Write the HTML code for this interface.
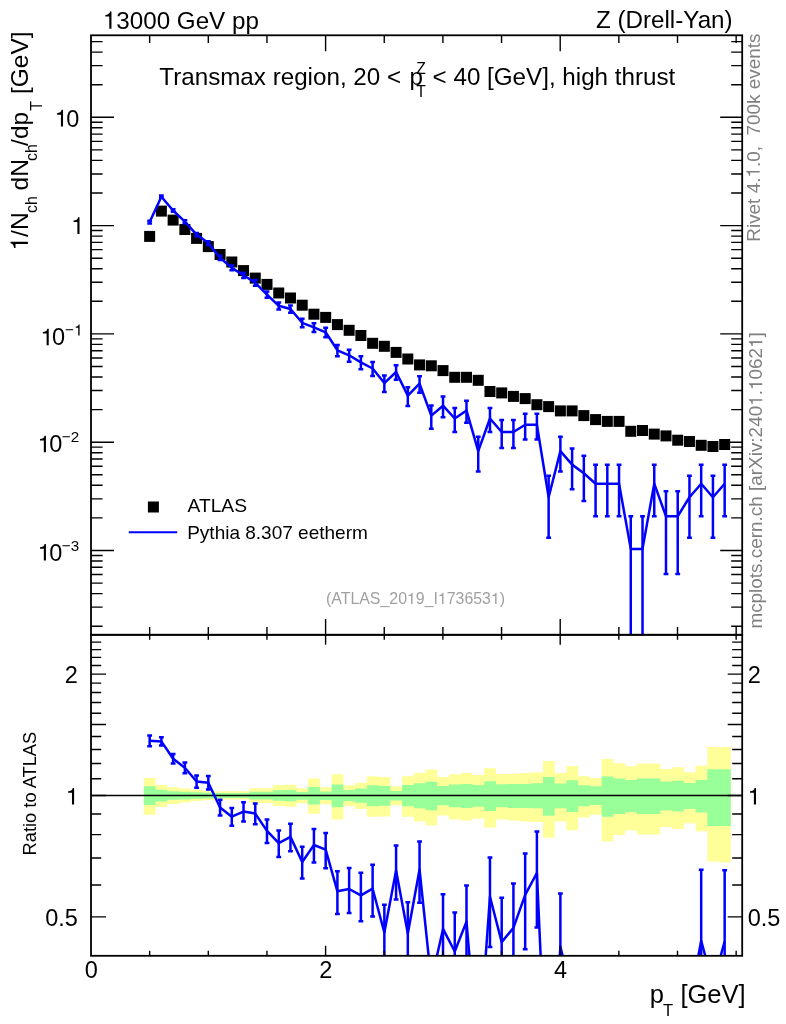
<!DOCTYPE html>
<html><head><meta charset="utf-8"><title>plot</title><style>html,body{margin:0;padding:0;background:#fff}body{width:786px;height:1024px;overflow:hidden}</style></head><body>
<svg width="786" height="1024" viewBox="0 0 786 1024" style="display:block;font-family:'Liberation Sans',sans-serif;will-change:transform">
<defs><clipPath id="cm"><rect x="91" y="35.3" width="651.2" height="599.5"/></clipPath><clipPath id="cr"><rect x="91" y="634.8" width="651.2" height="321"/></clipPath></defs>
<rect width="786" height="1024" fill="#fff"/>
<path d="M143.8 778V778H155.54V785.1H167.28V787.2H179.02V788.6H190.76V789.8H202.5V790.8H214.24V791.2H225.98V791.2H237.72V791.2H249.46V788.2H261.2V788.2H272.94V785.1H284.68V784.8H296.42V788.3H308.16V778.4H319.9V787.3H331.64V774.3H343.38V785.3H355.12V782.8H366.86V776.3H378.6V777.1H390.34V786.3H402.08V776.3H413.82V772.7H425.56V769.4H437.3V777.1H449.04V774.3H460.78V773.1H472.52V775.1H484.26V768.2H496V774.1H507.74V773.7H519.48V773.1H531.22V772.3H542.96V761.1H554.7V773.1H566.44V766.1H578.18V776.3H589.92V778H601.66V759.1H613.4V763.2H625.14V766.2H636.88V763.4H648.62V763.4H660.36V768.9H672.1V767.2H683.84V772.3H695.58V765.8H707.32V746.9H719.06V746.9H730.8V862.5H719.06V861.5H707.32V831.3H695.58V823.2H683.84V828.9H672.1V826.9H660.36V834.6H648.62V834.6H636.88V830.5H625.14V835H613.4V841.5H601.66V814.7H589.92V817.4H578.18V830.3H566.44V821.5H554.7V837.8H542.96V822.1H531.22V821.5H519.48V820.5H507.74V819.5H496V827.6H484.26V818.5H472.52V820.5H460.78V819.5H449.04V815.4H437.3V825.6H425.56V821.5H413.82V816.8H402.08V805.2H390.34V816.4H378.6V816.8H366.86V808.9H355.12V806.2H343.38V819.5H331.64V804.2H319.9V813.8H308.16V803.2H296.42V806.8H284.68V805.9H272.94V803H261.2V803H249.46V799.4H237.72V799.4H225.98V799.4H214.24V800H202.5V801H190.76V802.4H179.02V803.9H167.28V807.1H155.54V814.7H143.8Z" fill="#ffff99"/>
<path d="M143.8 786.2V786.2H155.54V789.8H167.28V791.2H179.02V791.7H190.76V792.3H202.5V792.7H214.24V792.9H225.98V792.9H237.72V792.9H249.46V791.7H261.2V791.7H272.94V790.2H284.68V790.1H296.42V792H308.16V786.9H319.9V791.4H331.64V784.5H343.38V790H355.12V788.5H366.86V785.3H378.6V785.9H390.34V791H402.08V784.9H413.82V783.2H425.56V781.8H437.3V785.9H449.04V784.5H460.78V783.9H472.52V784.9H484.26V781.2H496V784.3H507.74V783.9H519.48V783.9H531.22V783.2H542.96V777.1H554.7V783.4H566.44V780.2H578.18V785.3H589.92V786.2H601.66V776.4H613.4V778.4H625.14V780.1H636.88V778.4H648.62V778.4H660.36V781.5H672.1V780.7H683.84V783.1H695.58V780.1H707.32V769.3H719.06V769.3H730.8V825.9H719.06V825.9H707.32V812.6H695.58V809H683.84V811.6H672.1V810.6H660.36V814H648.62V814H636.88V812.2H625.14V814H613.4V816.7H601.66V805.1H589.92V806.2H578.18V811.9H566.44V808.3H554.7V815.8H542.96V808.3H531.22V807.9H519.48V807.9H507.74V807.3H496V810.9H484.26V806.7H472.52V807.9H460.78V807.3H449.04V805.2H437.3V810.3H425.56V808.3H413.82V806.2H402.08V800.5H390.34V805.8H378.6V806.2H366.86V802.8H355.12V801.2H343.38V807.3H331.64V800.1H319.9V804.6H308.16V799.7H296.42V801.3H284.68V800.8H272.94V799.4H261.2V799.4H249.46V798H237.72V798H225.98V798H214.24V798.4H202.5V798.8H190.76V799.4H179.02V799.8H167.28V801.4H155.54V805.1H143.8Z" fill="#99ff99"/>
<line x1="91" y1="795.5" x2="742.2" y2="795.5" stroke="#000" stroke-width="1.4"/>
<g clip-path="url(#cm)" fill="#000">
<rect x="144.15" y="230.9" width="11" height="11"/>
<rect x="155.88" y="205.6" width="11" height="11"/>
<rect x="167.62" y="214.6" width="11" height="11"/>
<rect x="179.36" y="224" width="11" height="11"/>
<rect x="191.09" y="232.9" width="11" height="11"/>
<rect x="202.82" y="241.1" width="11" height="11"/>
<rect x="214.56" y="249" width="11" height="11"/>
<rect x="226.3" y="256.5" width="11" height="11"/>
<rect x="238.03" y="265.1" width="11" height="11"/>
<rect x="249.76" y="272.6" width="11" height="11"/>
<rect x="261.5" y="278.9" width="11" height="11"/>
<rect x="273.24" y="287.5" width="11" height="11"/>
<rect x="284.97" y="292.5" width="11" height="11"/>
<rect x="296.71" y="299.7" width="11" height="11"/>
<rect x="308.44" y="308.7" width="11" height="11"/>
<rect x="320.17" y="311.9" width="11" height="11"/>
<rect x="331.91" y="319.1" width="11" height="11"/>
<rect x="343.64" y="324.8" width="11" height="11"/>
<rect x="355.38" y="330" width="11" height="11"/>
<rect x="367.12" y="337.8" width="11" height="11"/>
<rect x="378.85" y="340.8" width="11" height="11"/>
<rect x="390.59" y="346.9" width="11" height="11"/>
<rect x="402.32" y="353.5" width="11" height="11"/>
<rect x="414.05" y="359.4" width="11" height="11"/>
<rect x="425.79" y="360.3" width="11" height="11"/>
<rect x="437.52" y="365.1" width="11" height="11"/>
<rect x="449.26" y="371.8" width="11" height="11"/>
<rect x="461" y="371.8" width="11" height="11"/>
<rect x="472.73" y="374.8" width="11" height="11"/>
<rect x="484.47" y="386" width="11" height="11"/>
<rect x="496.2" y="387.4" width="11" height="11"/>
<rect x="507.93" y="390.9" width="11" height="11"/>
<rect x="519.67" y="393.1" width="11" height="11"/>
<rect x="531.4" y="399.2" width="11" height="11"/>
<rect x="543.14" y="401.1" width="11" height="11"/>
<rect x="554.88" y="405.4" width="11" height="11"/>
<rect x="566.61" y="405.4" width="11" height="11"/>
<rect x="578.35" y="410.1" width="11" height="11"/>
<rect x="590.08" y="414.1" width="11" height="11"/>
<rect x="601.81" y="415.9" width="11" height="11"/>
<rect x="613.55" y="415.9" width="11" height="11"/>
<rect x="625.28" y="425.8" width="11" height="11"/>
<rect x="637.02" y="425" width="11" height="11"/>
<rect x="648.75" y="428.6" width="11" height="11"/>
<rect x="660.49" y="430.4" width="11" height="11"/>
<rect x="672.22" y="434.7" width="11" height="11"/>
<rect x="683.96" y="436" width="11" height="11"/>
<rect x="695.69" y="439.8" width="11" height="11"/>
<rect x="707.43" y="441" width="11" height="11"/>
<rect x="719.16" y="439" width="11" height="11"/>
</g>
<g clip-path="url(#cm)" stroke="#0000ff" fill="none" stroke-linejoin="round">
<polyline points="149.65,222.1 161.38,196.7 173.12,210.5 184.86,221.7 196.59,234.6 208.32,243.1 220.06,257.8 231.8,267.9 243.53,275.3 255.26,282.8 267,294.6 278.74,305.8 290.47,309 302.21,322.8 313.94,327.4 325.67,332.3 337.41,350.3 349.14,355.3 360.88,362.4 372.62,368.5 384.35,383.04 396.09,372 407.82,395.66 419.55,383.74 431.29,415.64 443.02,405.7 454.76,418.49 466.5,410.41 478.23,451.1 489.97,418.49 501.7,432.02 513.43,432.02 525.17,424.77 536.9,424.77 548.64,497.23 560.38,451.1 572.11,464.63 583.85,473.2 595.58,483.7 607.31,483.7 619.05,483.7 630.78,548.9 642.52,548.9 654.25,483.7 665.99,516.3 677.72,516.3 689.46,497.23 701.19,483.7 712.93,497.23 724.66,483.7" stroke-width="2.5"/>
<path d="M149.65 220.66L149.65 223.58M147.25 220.66L152.05 220.66M147.25 223.58L152.05 223.58M161.38 195.6L161.38 197.83M158.98 195.6L163.78 195.6M158.98 197.83L163.78 197.83M173.12 209.23L173.12 211.81M170.72 209.23L175.52 209.23M170.72 211.81L175.52 211.81M184.86 220.27L184.86 223.17M182.46 220.27L187.26 220.27M182.46 223.17L187.26 223.17M196.59 232.96L196.59 236.29M194.19 232.96L198.99 232.96M194.19 236.29L198.99 236.29M208.32 241.31L208.32 244.96M205.92 241.31L210.72 241.31M205.92 244.96L210.72 244.96M220.06 255.72L220.06 259.98M217.66 255.72L222.46 255.72M217.66 259.98L222.46 259.98M231.8 265.59L231.8 270.33M229.4 265.59L234.2 265.59M229.4 270.33L234.2 270.33M243.53 272.8L243.53 277.94M241.13 272.8L245.93 272.8M241.13 277.94L245.93 277.94M255.26 280.1L255.26 285.66M252.86 280.1L257.66 280.1M252.86 285.66L257.66 285.66M267 291.55L267 297.86M264.6 291.55L269.4 291.55M264.6 297.86L269.4 297.86M278.74 302.38L278.74 309.49M276.34 302.38L281.13 302.38M276.34 309.49L281.13 309.49M290.47 305.46L290.47 312.82M288.07 305.46L292.87 305.46M288.07 312.82L292.87 312.82M302.21 318.73L302.21 327.26M299.81 318.73L304.61 318.73M299.81 327.26L304.61 327.26M313.94 323.13L313.94 332.09M311.54 323.13L316.34 323.13M311.54 332.09L316.34 332.09M325.67 327.82L325.67 337.26M323.27 327.82L328.07 327.82M323.27 337.26L328.07 337.26M337.41 344.92L337.41 356.37M335.01 344.92L339.81 344.92M335.01 356.37L339.81 356.37M349.14 349.65L349.14 361.73M346.75 349.65L351.54 349.65M346.75 361.73L351.54 361.73M360.88 356.33L360.88 369.37M358.48 356.33L363.28 356.33M358.48 369.37L363.28 369.37M372.62 362.05L372.62 375.97M370.22 362.05L375.01 362.05M370.22 375.97L375.01 375.97M384.35 375.6L384.35 391.89M381.95 375.6L386.75 375.6M381.95 391.89L386.75 391.89M396.09 365.32L396.09 379.78M393.69 365.32L398.49 365.32M393.69 379.78L398.49 379.78M407.82 387.24L407.82 405.93M405.42 387.24L410.22 387.24M405.42 405.93L410.22 405.93M419.55 376.24L419.55 392.66M417.15 376.24L421.95 376.24M417.15 392.66L421.95 392.66M431.29 405.43L431.29 428.71M428.89 405.43L433.69 405.43M428.89 428.71L433.69 428.71M443.02 396.42L443.02 417.28M440.62 396.42L445.42 396.42M440.62 417.28L445.42 417.28M454.76 408L454.76 432.02M452.36 408L457.16 408M452.36 432.02L457.16 432.02M466.5 400.7L466.5 422.67M464.1 400.7L468.89 400.7M464.1 422.67L468.89 422.67M478.23 436.86L478.23 471.61M475.83 436.86L480.63 436.86M475.83 471.61L480.63 471.61M489.97 408L489.97 432.02M487.57 408L492.37 408M487.57 432.02L492.37 432.02M501.7 420.1L501.7 448.05M499.3 420.1L504.1 420.1M499.3 448.05L504.1 448.05M513.43 420.1L513.43 448.05M511.03 420.1L515.83 420.1M511.03 448.05L515.83 448.05M525.17 413.63L525.17 439.4M522.77 413.63L527.57 413.63M522.77 439.4L527.57 439.4M536.9 413.63L536.9 439.4M534.5 413.63L539.3 413.63M534.5 439.4L539.3 439.4M548.64 475.79L548.64 537.73M546.24 475.79L551.04 475.79M546.24 537.73L551.04 537.73M560.38 436.86L560.38 471.61M557.98 436.86L562.77 436.86M557.98 471.61L562.77 471.61M572.11 448.52L572.11 489.3M569.71 448.52L574.51 448.52M569.71 489.3L574.51 489.3M583.85 455.82L583.85 501.08M581.45 455.82L586.25 455.82M581.45 501.08L586.25 501.08M595.58 464.63L595.58 516.3M593.18 464.63L597.98 464.63M593.18 516.3L597.98 516.3M607.31 464.63L607.31 516.3M604.91 464.63L609.71 464.63M604.91 516.3L609.71 516.3M619.05 464.63L619.05 516.3M616.65 464.63L621.45 464.63M616.65 516.3L621.45 516.3M630.78 516.3L630.78 2000M628.38 516.3L633.18 516.3M628.38 2000L633.18 2000M642.52 516.3L642.52 2000M640.12 516.3L644.92 516.3M640.12 2000L644.92 2000M654.25 464.63L654.25 516.3M651.86 464.63L656.65 464.63M651.86 516.3L656.65 516.3M665.99 491.14L665.99 574.05M663.59 491.14L668.39 491.14M663.59 574.05L668.39 574.05M677.72 491.14L677.72 574.05M675.32 491.14L680.12 491.14M675.32 574.05L680.12 574.05M689.46 475.79L689.46 537.73M687.06 475.79L691.86 475.79M687.06 537.73L691.86 537.73M701.19 464.63L701.19 516.3M698.79 464.63L703.59 464.63M698.79 516.3L703.59 516.3M712.93 475.79L712.93 537.73M710.53 475.79L715.33 475.79M710.53 537.73L715.33 537.73M724.66 464.63L724.66 516.3M722.26 464.63L727.06 464.63M722.26 516.3L727.06 516.3" stroke-width="2.5"/>
</g>
<g clip-path="url(#cr)" stroke="#0000ff" fill="none" stroke-linejoin="round">
<polyline points="149.65,740.8 161.38,741.4 173.12,758.7 184.86,767.8 196.59,781.5 208.32,782.7 220.06,807.5 231.8,816.7 243.53,811.6 255.26,813.6 267,830.9 278.74,843.2 290.47,836.9 302.21,862 313.94,845 325.67,849.7 337.41,891.3 349.14,889 360.88,895.3 372.62,888.7 384.35,932.5 396.09,870.4 407.82,933.5 419.55,869.5 431.29,981.11 443.02,928.9 454.76,951.5 466.5,921.6 478.23,1059.14 489.97,896.7 501.7,942.1 513.43,927.9 525.17,894.9 536.9,873 548.64,1132.99 560.38,946.6 572.11,995.57 583.85,1010 595.58,1034.19 607.31,1027.49 619.05,1027.49 630.78,1233.43 642.52,1236.41 654.25,980.19 665.99,1094.9 677.72,1078.88 689.46,1003.03 701.19,940.7 712.93,984.41 724.66,941.3" stroke-width="2.5"/>
<path d="M149.65 735.45L149.65 746.31M147.25 735.45L152.05 735.45M147.25 746.31L152.05 746.31M161.38 737.3L161.38 745.59M158.98 737.3L163.78 737.3M158.98 745.59L163.78 745.59M173.12 753.97L173.12 763.57M170.72 753.97L175.52 753.97M170.72 763.57L175.52 763.57M184.86 762.48L184.86 773.29M182.46 762.48L187.26 762.48M182.46 773.29L187.26 773.29M196.59 775.41L196.59 787.81M194.19 775.41L198.99 775.41M194.19 787.81L198.99 787.81M208.32 776.04L208.32 789.62M205.92 776.04L210.72 776.04M205.92 789.62L210.72 789.62M220.06 799.74L220.06 815.62M217.66 799.74L222.46 799.74M217.66 815.62L222.46 815.62M231.8 808.08L231.8 825.76M229.4 808.08L234.2 808.08M229.4 825.76L234.2 825.76M243.53 802.3L243.53 821.43M241.13 802.3L245.93 802.3M241.13 821.43L245.93 821.43M255.26 803.55L255.26 824.27M252.86 803.55L257.66 803.55M252.86 824.27L257.66 824.27M267 819.54L267 843.04M264.6 819.54L269.4 819.54M264.6 843.04L269.4 843.04M278.74 830.46L278.74 856.94M276.34 830.46L281.13 830.46M276.34 856.94L281.13 856.94M290.47 823.74L290.47 851.14M288.07 823.74L292.87 823.74M288.07 851.14L292.87 851.14M302.21 846.84L302.21 878.59M299.81 846.84L304.61 846.84M299.81 878.59L304.61 878.59M313.94 829.12L313.94 862.47M311.54 829.12L316.34 829.12M311.54 862.47L316.34 862.47M325.67 833.01L325.67 868.15M323.27 833.01L328.07 833.01M323.27 868.15L328.07 868.15M337.41 871.28L337.41 913.91M335.01 871.28L339.81 871.28M335.01 913.91L339.81 913.91M349.14 867.95L349.14 912.93M346.75 867.95L351.54 867.95M346.75 912.93L351.54 912.93M360.88 872.7L360.88 921.25M358.48 872.7L363.28 872.7M358.48 921.25L363.28 921.25M372.62 864.69L372.62 916.54M370.22 864.69L375.01 864.69M370.22 916.54L375.01 916.54M384.35 904.78L384.35 965.45M381.95 904.78L386.75 904.78M381.95 965.45L386.75 965.45M396.09 845.54L396.09 899.38M393.69 845.54L398.49 845.54M393.69 899.38L398.49 899.38M407.82 902.13L407.82 971.74M405.42 902.13L410.22 902.13M405.42 971.74L410.22 971.74M419.55 841.59L419.55 902.72M417.15 841.59L421.95 841.59M417.15 902.72L421.95 902.72M443.02 894.33L443.02 972.02M440.62 894.33L445.42 894.33M440.62 972.02L445.42 972.02M454.76 912.42L454.76 1001.89M452.36 912.42L457.16 912.42M452.36 1001.89L457.16 1001.89M466.5 885.42L466.5 967.25M464.1 885.42L468.89 885.42M464.1 967.25L468.89 967.25M489.97 857.62L489.97 947.09M487.57 857.62L492.37 857.62M487.57 947.09L492.37 947.09M501.7 897.68L501.7 1001.76M499.3 897.68L504.1 897.68M499.3 1001.76L504.1 1001.76M513.43 883.48L513.43 987.56M511.03 883.48L515.83 883.48M511.03 987.56L515.83 987.56M525.17 853.41L525.17 949.37M522.77 853.41L527.57 853.41M522.77 949.37L527.57 949.37M536.9 831.51L536.9 927.47M534.5 831.51L539.3 831.51M534.5 927.47L539.3 927.47M560.38 893.58L560.38 1023.01M557.98 893.58L562.77 893.58M557.98 1023.01L562.77 1023.01M701.19 869.68L701.19 1062.11M698.79 869.68L703.59 869.68M698.79 1062.11L703.59 1062.11M724.66 870.28L724.66 1062.71M722.26 870.28L727.06 870.28M722.26 1062.71L727.06 1062.71" stroke-width="2.5"/>
</g>
<path d="M149.65 35.3L149.65 43M149.65 634.8L149.65 627.1M149.65 634.8L149.65 639.8M149.65 955.8L149.65 950.8M208.3 35.3L208.3 43M208.3 634.8L208.3 627.1M208.3 634.8L208.3 639.8M208.3 955.8L208.3 950.8M266.95 35.3L266.95 43M266.95 634.8L266.95 627.1M266.95 634.8L266.95 639.8M266.95 955.8L266.95 950.8M325.6 35.3L325.6 51.3M325.6 634.8L325.6 619M325.6 634.8L325.6 644.8M325.6 955.8L325.6 945.8M384.25 35.3L384.25 43M384.25 634.8L384.25 627.1M384.25 634.8L384.25 639.8M384.25 955.8L384.25 950.8M442.9 35.3L442.9 43M442.9 634.8L442.9 627.1M442.9 634.8L442.9 639.8M442.9 955.8L442.9 950.8M501.55 35.3L501.55 43M501.55 634.8L501.55 627.1M501.55 634.8L501.55 639.8M501.55 955.8L501.55 950.8M560.2 35.3L560.2 51.3M560.2 634.8L560.2 619M560.2 634.8L560.2 644.8M560.2 955.8L560.2 945.8M618.85 35.3L618.85 43M618.85 634.8L618.85 627.1M618.85 634.8L618.85 639.8M618.85 955.8L618.85 950.8M677.5 35.3L677.5 43M677.5 634.8L677.5 627.1M677.5 634.8L677.5 639.8M677.5 955.8L677.5 950.8M736.15 35.3L736.15 43M736.15 634.8L736.15 627.1M736.15 634.8L736.15 639.8M736.15 955.8L736.15 950.8M91 626.2L102.6 626.2M742.2 626.2L731.2 626.2M91 607.13L102.6 607.13M742.2 607.13L731.2 607.13M91 593.6L102.6 593.6M742.2 593.6L731.2 593.6M91 583.1L102.6 583.1M742.2 583.1L731.2 583.1M91 574.53L102.6 574.53M742.2 574.53L731.2 574.53M91 567.28L102.6 567.28M742.2 567.28L731.2 567.28M91 561L102.6 561M742.2 561L731.2 561M91 555.46L102.6 555.46M742.2 555.46L731.2 555.46M91 550.5L114 550.5M742.2 550.5L720.2 550.5M91 517.9L102.6 517.9M742.2 517.9L731.2 517.9M91 498.83L102.6 498.83M742.2 498.83L731.2 498.83M91 485.3L102.6 485.3M742.2 485.3L731.2 485.3M91 474.8L102.6 474.8M742.2 474.8L731.2 474.8M91 466.23L102.6 466.23M742.2 466.23L731.2 466.23M91 458.98L102.6 458.98M742.2 458.98L731.2 458.98M91 452.7L102.6 452.7M742.2 452.7L731.2 452.7M91 447.16L102.6 447.16M742.2 447.16L731.2 447.16M91 442.2L114 442.2M742.2 442.2L720.2 442.2M91 409.6L102.6 409.6M742.2 409.6L731.2 409.6M91 390.53L102.6 390.53M742.2 390.53L731.2 390.53M91 377L102.6 377M742.2 377L731.2 377M91 366.5L102.6 366.5M742.2 366.5L731.2 366.5M91 357.93L102.6 357.93M742.2 357.93L731.2 357.93M91 350.68L102.6 350.68M742.2 350.68L731.2 350.68M91 344.4L102.6 344.4M742.2 344.4L731.2 344.4M91 338.86L102.6 338.86M742.2 338.86L731.2 338.86M91 333.9L114 333.9M742.2 333.9L720.2 333.9M91 301.3L102.6 301.3M742.2 301.3L731.2 301.3M91 282.23L102.6 282.23M742.2 282.23L731.2 282.23M91 268.7L102.6 268.7M742.2 268.7L731.2 268.7M91 258.2L102.6 258.2M742.2 258.2L731.2 258.2M91 249.63L102.6 249.63M742.2 249.63L731.2 249.63M91 242.38L102.6 242.38M742.2 242.38L731.2 242.38M91 236.1L102.6 236.1M742.2 236.1L731.2 236.1M91 230.56L102.6 230.56M742.2 230.56L731.2 230.56M91 225.6L114 225.6M742.2 225.6L720.2 225.6M91 193L102.6 193M742.2 193L731.2 193M91 173.93L102.6 173.93M742.2 173.93L731.2 173.93M91 160.4L102.6 160.4M742.2 160.4L731.2 160.4M91 149.9L102.6 149.9M742.2 149.9L731.2 149.9M91 141.33L102.6 141.33M742.2 141.33L731.2 141.33M91 134.08L102.6 134.08M742.2 134.08L731.2 134.08M91 127.8L102.6 127.8M742.2 127.8L731.2 127.8M91 122.26L102.6 122.26M742.2 122.26L731.2 122.26M91 117.3L114 117.3M742.2 117.3L720.2 117.3M91 84.7L102.6 84.7M742.2 84.7L731.2 84.7M91 65.63L102.6 65.63M742.2 65.63L731.2 65.63M91 52.1L102.6 52.1M742.2 52.1L731.2 52.1M91 41.6L102.6 41.6M742.2 41.6L731.2 41.6M91 916.91L106 916.91M742.2 916.91L727.7 916.91M91 884.97L101.2 884.97M742.2 884.97L732.2 884.97M91 857.97L101.2 857.97M742.2 857.97L732.2 857.97M91 834.58L101.2 834.58M742.2 834.58L732.2 834.58M91 813.95L101.2 813.95M742.2 813.95L732.2 813.95M91 795.5L106 795.5M742.2 795.5L727.7 795.5M91 778.81L101.2 778.81M742.2 778.81L732.2 778.81M91 763.57L101.2 763.57M742.2 763.57L732.2 763.57M91 749.55L101.2 749.55M742.2 749.55L732.2 749.55M91 736.57L101.2 736.57M742.2 736.57L732.2 736.57M91 724.48L106 724.48M742.2 724.48L727.7 724.48M91 713.18L101.2 713.18M742.2 713.18L732.2 713.18M91 702.56L101.2 702.56M742.2 702.56L732.2 702.56M91 692.55L101.2 692.55M742.2 692.55L732.2 692.55M91 683.08L101.2 683.08M742.2 683.08L732.2 683.08M91 674.09L106 674.09M742.2 674.09L727.7 674.09M91 665.55L101.2 665.55M742.2 665.55L732.2 665.55M91 657.4L101.2 657.4M742.2 657.4L732.2 657.4M91 649.62L101.2 649.62M742.2 649.62L732.2 649.62M91 642.16L101.2 642.16M742.2 642.16L732.2 642.16" stroke="#000" stroke-width="1.4" fill="none"/>
<g fill="none" stroke="#000" stroke-width="1.8">
<rect x="91" y="35.3" width="651.2" height="599.5"/>
<rect x="91" y="634.8" width="651.2" height="321"/>
</g>
<rect x="147.9" y="501.5" width="11" height="11" fill="#000"/>
<line x1="128.8" y1="532.3" x2="177.2" y2="532.3" stroke="#0000ff" stroke-width="2"/>
<g fill="#000">
<path d="M264 0V505H101V568C200 570 280 610 297 709H354V0Z" transform="translate(102.9 28.7) scale(0.02420 -0.02420)"/>
<text x="116.34" y="28.7" font-size="24.2" xml:space="preserve">3000 GeV pp</text>
<text id="t_proc" x="732.6" y="28.4" font-size="24.2" text-anchor="end">Z (Drell-Yan)</text>
<text id="t_t1" x="159.3" y="84.9" font-size="24.2">Transmax region, 20 &lt;</text>
<text id="t_p" x="409.4" y="84.9" font-size="24.2">p</text>
<text id="t_Z" x="416.3" y="73.7" font-size="15.6">Z</text>
<text id="t_T" x="416.3" y="96.6" font-size="15.6">T</text>
<text id="t_t2" x="432.6" y="84.9" font-size="24.2">&lt; 40 [GeV], high thrust</text>
<text id="t_atlas" x="187.6" y="512.2" font-size="19.2">ATLAS</text>
<text id="t_py" x="187.2" y="539" font-size="19">Pythia 8.307 eetherm</text>
<g fill="#a0a0a0">
<text x="326" y="604" font-size="15.9" xml:space="preserve">(ATLAS_20</text>
<path d="M264 0V505H101V568C200 570 280 610 297 709H354V0Z" transform="translate(406.95 604) scale(0.01590 -0.01590)"/>
<text x="415.8" y="604" font-size="15.9" xml:space="preserve">9_I</text>
<path d="M264 0V505H101V568C200 570 280 610 297 709H354V0Z" transform="translate(437.89 604) scale(0.01590 -0.01590)"/>
<text x="446.72" y="604" font-size="15.9" xml:space="preserve">73653</text>
<path d="M264 0V505H101V568C200 570 280 610 297 709H354V0Z" transform="translate(490.91 604) scale(0.01590 -0.01590)"/>
<text x="499.75" y="604" font-size="15.9" xml:space="preserve">)</text>
</g>
<text x="66.36" y="126.5" font-size="23.5">0</text>
<path d="M264 0V505H101V568C200 570 280 610 297 709H354V0Z" transform="translate(54.72 126.5) scale(0.02350 -0.02350)"/>
<path d="M264 0V505H101V568C200 570 280 610 297 709H354V0Z" transform="translate(71.18 233.9) scale(0.02350 -0.02350)"/>
<text x="52.06" y="345.3" font-size="23.5">0</text>
<path d="M264 0V505H101V568C200 570 280 610 297 709H354V0Z" transform="translate(40.42 345.3) scale(0.02350 -0.02350)"/>
<text x="64.9" y="335.4" font-size="15.2">−</text>
<path d="M264 0V505H101V568C200 570 280 610 297 709H354V0Z" transform="translate(74.22 335.4) scale(0.01520 -0.01520)"/>
<text x="49.26" y="452.3" font-size="23.5">0</text>
<path d="M264 0V505H101V568C200 570 280 610 297 709H354V0Z" transform="translate(37.62 452.3) scale(0.02350 -0.02350)"/>
<text x="61.8" y="442.4" font-size="15.2">−2</text>
<text x="49.26" y="560.6" font-size="23.5">0</text>
<path d="M264 0V505H101V568C200 570 280 610 297 709H354V0Z" transform="translate(37.62 560.6) scale(0.02350 -0.02350)"/>
<text x="61.8" y="550.7" font-size="15.2">−3</text>
<text x="77.8" y="683" font-size="23.5" text-anchor="end">2</text>
<text x="747.7" y="683" font-size="23.5">2</text>
<path d="M264 0V505H101V568C200 570 280 610 297 709H354V0Z" transform="translate(65.78 804.6) scale(0.02350 -0.02350)"/>
<path d="M264 0V505H101V568C200 570 280 610 297 709H354V0Z" transform="translate(747.68 804.6) scale(0.02350 -0.02350)"/>
<text x="77.8" y="925.9" font-size="23.5" text-anchor="end">0.5</text>
<text x="747.7" y="925.9" font-size="23.5">0.5</text>
<text x="91.3" y="978.2" font-size="23.5" text-anchor="middle">0</text>
<text x="325.9" y="978.2" font-size="23.5" text-anchor="middle">2</text>
<text x="560.5" y="978.2" font-size="23.5" text-anchor="middle">4</text>
<text id="xt_p" x="649.8" y="1003.3" font-size="25.5">p</text>
<text id="xt_T" x="663" y="1016.3" font-size="16.5">T</text>
<text id="xt_u" x="680.4" y="1003.3" font-size="25.5">[GeV]</text>
<g transform="translate(27.9 250.5) rotate(-90)" font-size="24.5">
<path d="M264 0V505H101V568C200 570 280 610 297 709H354V0Z" transform="translate(0 0) scale(0.02450 -0.02450)"/>
<text id="yt_a" x="13.63" y="0">/N</text>
<text id="yt_b" x="37.5" y="9.2" font-size="16">ch</text>
<text id="yt_c" x="60.1" y="0">dN</text>
<text id="yt_d" x="89.5" y="9.2" font-size="16">ch</text>
<text id="yt_e" x="104.6" y="0">/dp</text>
<text id="yt_f" x="139.8" y="14" font-size="16">T</text>
<text id="yt_g" x="156.4" y="0">[GeV]</text>
</g>
<text id="rt" transform="translate(36.4 855.4) rotate(-90)" font-size="18.3">Ratio to ATLAS</text>
</g>
<g fill="#808080" font-size="18.92">
<g transform="translate(759.7 241.7) rotate(-90)">
<text x="0" y="0" font-size="18.92" xml:space="preserve">Rivet 4.</text>
<path d="M264 0V505H101V568C200 570 280 610 297 709H354V0Z" transform="translate(64.09 0) scale(0.01892 -0.01892)"/>
<text x="74.61" y="0" font-size="18.92" xml:space="preserve">.0,  700k events</text>
</g>
<g transform="translate(762.3 628.6) rotate(-90)">
<text x="0" y="0" font-size="18.92" xml:space="preserve">mcplots.cern.ch [arXiv:240</text>
<path d="M264 0V505H101V568C200 570 280 610 297 709H354V0Z" transform="translate(222.77 0) scale(0.01892 -0.01892)"/>
<text x="233.28" y="0" font-size="18.92" xml:space="preserve">.</text>
<path d="M264 0V505H101V568C200 570 280 610 297 709H354V0Z" transform="translate(238.53 0) scale(0.01892 -0.01892)"/>
<text x="249.05" y="0" font-size="18.92" xml:space="preserve">062</text>
<path d="M264 0V505H101V568C200 570 280 610 297 709H354V0Z" transform="translate(280.58 0) scale(0.01892 -0.01892)"/>
<text x="291.09" y="0" font-size="18.92" xml:space="preserve">]</text>
</g>
</g>
</svg>
</body></html>
